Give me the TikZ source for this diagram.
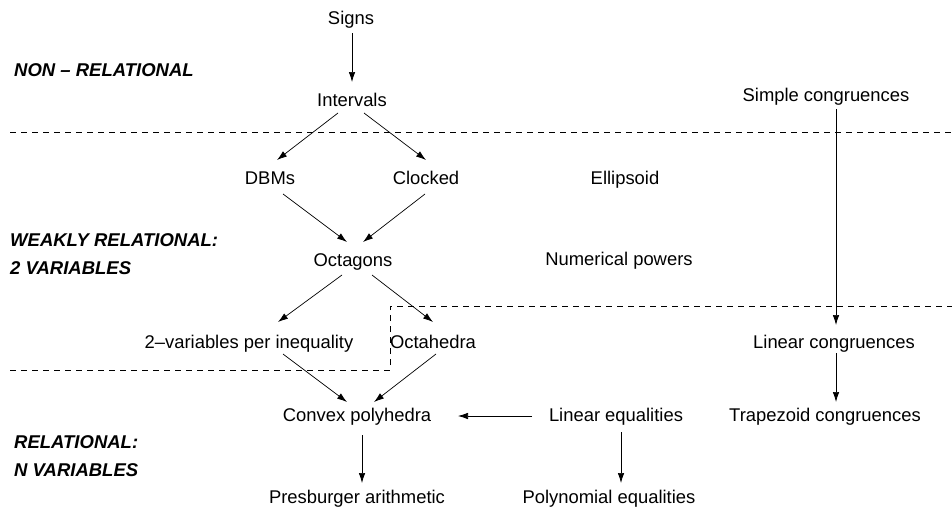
\documentclass[tikz,border=0pt]{standalone}
\usepackage{fontspec}
\setmainfont{Liberation Sans}
\usetikzlibrary{arrows.meta}
\begin{document}
\begin{tikzpicture}[x=1pt,y=-1pt,
  dom/.style={font=\fontsize{18.4}{22}\selectfont, inner sep=0pt, anchor=base},
  lvl/.style={font=\fontsize{18.5}{28}\selectfont\bfseries\itshape, anchor=west, align=left, inner sep=0pt},
  arr/.style={-{Latex[length=10pt,width=6.5pt]}, line width=0.7pt},
  sep/.style={dash pattern=on 6pt off 5pt, line width=0.7pt}]
\useasboundingbox (0,0) rectangle (952,514);

% level labels
\node[lvl] (l1) at (14,70) {NON -- RELATIONAL};
\node[lvl] (l2) at (10,254) {WEAKLY RELATIONAL:\\2 VARIABLES};
\node[lvl] (l3) at (14,456) {RELATIONAL:\\N VARIABLES};

% domains (placed by their baselines)
\node[dom] (signs) at (351,24.5) {Signs};
\node[dom] (int)   at (352,106.5) {Intervals};
\node[dom] (scong) at (826,101.5) {Simple congruences};
\node[dom] (dbm)   at (270,184.5) {DBMs};
\node[dom] (clk)   at (426,184.5) {Clocked};
\node[dom] (ell)   at (625,184.5) {Ellipsoid};
\node[dom] (oct)   at (353,266.5) {Octagons};
\node[dom] (npow)  at (619,265.5) {Numerical powers};
\node[dom] (tvpi)  at (249,348.5) {2--variables per inequality};
\node[dom] (octh)  at (433,348.5) {Octahedra};
\node[dom] (lcong) at (834,348.5) {Linear congruences};
\node[dom] (poly)  at (357,421.5) {Convex polyhedra};
\node[dom] (leq)   at (616,421.5) {Linear equalities};
\node[dom] (tcong) at (825,421.5) {Trapezoid congruences};
\node[dom] (pres)  at (357,503.5) {Presburger arithmetic};
\node[dom] (peq)   at (609,503.5) {Polynomial equalities};

% separators between the levels
\coordinate (s1a) at (10,132);
\coordinate (s1b) at (952,132);
\coordinate (s2a) at (10,370);
\coordinate (s2b) at (390,370);
\coordinate (s2c) at (390,306);
\coordinate (s2d) at (952,306);
\draw[sep] (s1a) -- (s1b);
\draw[sep] (s2a) -- (s2b) -- (s2c) -- (s2d);

% refinement arrows
\draw[arr] ([shift={(1,8.5)}]signs.base) -- ([shift={(0,-24.5)}]int.base);
\draw[arr] ([shift={(-14,6.5)}]int.base) -- ([shift={(7,-24.5)}]dbm.base);
\draw[arr] ([shift={(12,6.5)}]int.base) -- ([shift={(0,-24.5)}]clk.base);
\draw[arr] ([shift={(13,9.5)}]dbm.base) -- ([shift={(-6,-24.5)}]oct.base);
\draw[arr] ([shift={(-1,9.5)}]clk.base) -- ([shift={(10,-24.5)}]oct.base);
\draw[arr] ([shift={(-11,8.5)}]oct.base) -- ([shift={(29,-26.5)}]tvpi.base);
\draw[arr] ([shift={(19,8.5)}]oct.base) -- ([shift={(0,-26.5)}]octh.base);
\draw[arr] ([shift={(34,5.5)}]tvpi.base) -- ([shift={(-10,-19.5)}]poly.base);
\draw[arr] ([shift={(3,5.5)}]octh.base) -- ([shift={(17,-19.5)}]poly.base);
\draw[arr] ([shift={(-84,-5.5)}]leq.base) -- ([shift={(101,-5.5)}]poly.base);
\draw[arr] ([shift={(5,13.5)}]poly.base) -- ([shift={(5,-20.5)}]pres.base);
\draw[arr] ([shift={(5,10.5)}]leq.base) -- ([shift={(12,-20.5)}]peq.base);
\draw[arr] ([shift={(10,7.5)}]scong.base) -- ([shift={(2,-23.5)}]lcong.base);
\draw[arr] ([shift={(2,4.5)}]lcong.base) -- ([shift={(11,-19.5)}]tcong.base);
\end{tikzpicture}
\end{document}
